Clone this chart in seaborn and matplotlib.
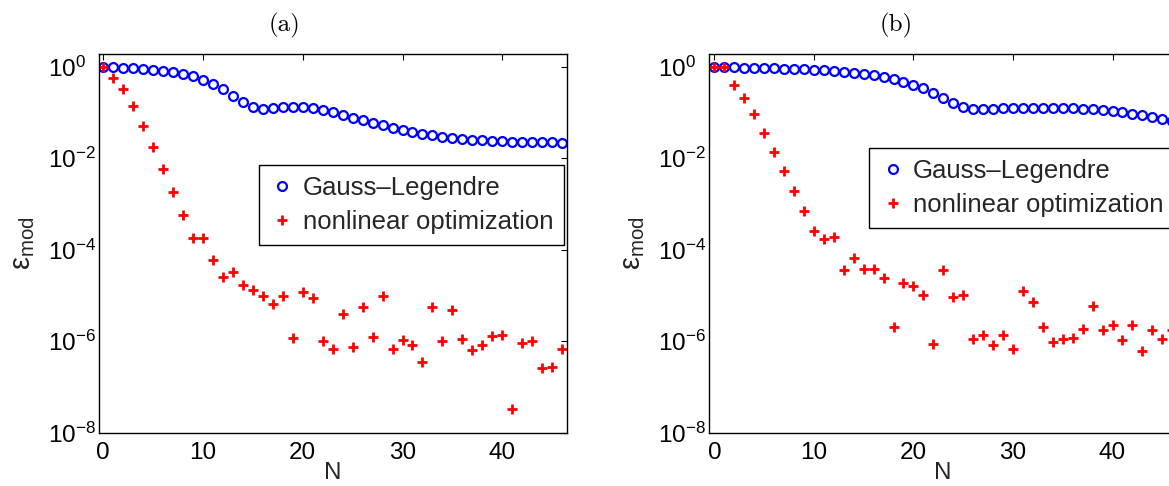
import matplotlib
matplotlib.use("Agg")
import matplotlib.pyplot as plt
import seaborn as sns

# ---------------- data ----------------
N_a = list(range(47))
gauss_a = [1.0, 0.968, 0.953, 0.92, 0.89, 0.86, 0.82, 0.75, 0.69, 0.62, 0.52, 0.42,
           0.32, 0.233, 0.166, 0.129, 0.119, 0.123, 0.129, 0.132, 0.129, 0.123, 0.113,
           0.102, 0.089, 0.077, 0.067, 0.060, 0.052, 0.046, 0.041, 0.037, 0.034, 0.032,
           0.029, 0.0276, 0.0262, 0.0254, 0.0245, 0.0241, 0.0238, 0.0230, 0.0230, 0.0226,
           0.0222, 0.0222, 0.0218]
nonlin_a = [1.0, 0.575, 0.32, 0.138, 0.0506, 0.0176, 0.0058, 0.00182, 5.8e-4, 1.77e-4,
            1.77e-4, 6.05e-5, 2.53e-5, 3.26e-5, 1.69e-5, 1.31e-5, 9.9e-6, 6.5e-6, 9.6e-6,
            1.19e-6, 1.17e-5, 8.8e-6, 9.95e-7, 6.8e-7, 3.9e-6, 7.6e-7, 5.5e-6, 1.22e-6,
            9.9e-6, 6.8e-7, 1.06e-6, 8.3e-7, 3.5e-7, 5.5e-6, 1.01e-6, 4.8e-6, 1.1e-6,
            6.4e-7, 8.3e-7, 1.28e-6, 1.36e-6, 3.35e-8, 9.0e-7, 1.01e-6, 2.55e-7, 2.77e-7,
            6.65e-7]

N_b = list(range(47))
gauss_b = [1.0, 0.985, 0.969, 0.953, 0.945, 0.937, 0.92, 0.906, 0.89, 0.875, 0.86, 0.833,
           0.805, 0.779, 0.741, 0.705, 0.659, 0.595, 0.53, 0.471, 0.405, 0.337, 0.271,
           0.21, 0.164, 0.134, 0.119, 0.117, 0.119, 0.123, 0.125, 0.127, 0.127, 0.127,
           0.127, 0.125, 0.123, 0.121, 0.117, 0.113, 0.106, 0.1005, 0.094, 0.0865, 0.081,
           0.073, 0.066]
nonlin_b = [1.0, 1.0, 0.40, 0.204, 0.091, 0.0361, 0.0139, 0.00525, 0.00195, 7.1e-4, 2.6e-4,
            1.69e-4, 1.92e-4, 3.6e-5, 6.7e-5, 3.8e-5, 3.8e-5, 2.4e-5, 2.0e-6, 1.9e-5,
            1.61e-5, 1.03e-5, 8.5e-7, 3.6e-5, 9.2e-6, 1.03e-5, 1.12e-6, 1.39e-6, 8.4e-7,
            1.39e-6, 6.8e-7, 1.27e-5, 7.3e-6, 2.07e-6, 9.5e-7, 1.13e-6, 1.16e-6, 1.87e-6,
            5.97e-6, 1.73e-6, 2.23e-6, 1.06e-6, 2.23e-6, 6.1e-7, 1.79e-6, 1.1e-6, 1.73e-6]

panel_titles = ["(a)", "(b)"]
legend_labels = ["Gauss\u2013Legendre", "nonlinear optimization"]
x_ticks = [0, 10, 20, 30, 40]
y_ticks = [1e-8, 1e-6, 1e-4, 1e-2, 1e0]
x_label = "N"
y_label = r"$\mathrm{\varepsilon}_{\mathrm{mod}}$"

# ---------------- style ----------------
sns.set_style("white")
plt.rcParams["font.family"] = ["Liberation Sans", "DejaVu Sans"]
plt.rcParams["mathtext.fontset"] = "custom"
plt.rcParams["mathtext.rm"] = "Liberation Sans"
plt.rcParams["mathtext.it"] = "Liberation Sans:italic"
plt.rcParams["mathtext.bf"] = "Liberation Sans:bold"
plt.rcParams["axes.unicode_minus"] = True

fig = plt.figure(figsize=(11.69, 4.86), dpi=100)

panels = [
    dict(N=N_a, gl=gauss_a, nl=nonlin_a, rect=[0.0849, 0.1097, 0.3998, 0.7792],
         xlim=(-0.4, 46.45), leg=(0.341, 0.707), title_xy=(0.243, 0.947)),
    dict(N=N_b, gl=gauss_b, nl=nonlin_b, rect=[0.6068, 0.1097, 0.3998, 0.7792],
         xlim=(-0.5, 46.45), leg=(0.3417, 0.751), title_xy=(0.767, 0.947)),
]

for p, title in zip(panels, panel_titles):
    ax = fig.add_axes(p["rect"])
    ax.set_yscale("log")
    sns.lineplot(x=p["N"], y=p["gl"], ax=ax, color="blue", marker="o", linestyle="none",
                 markerfacecolor="none", markeredgecolor="blue", markersize=6.4,
                 markeredgewidth=1.6, label=legend_labels[0], sort=False, estimator=None)
    sns.lineplot(x=p["N"], y=p["nl"], ax=ax, color="red", marker="+", linestyle="none",
                 markeredgecolor="red", markersize=7.2, markeredgewidth=2.0,
                 label=legend_labels[1], sort=False, estimator=None)

    ax.set_xlim(*p["xlim"])
    ax.set_ylim(1e-8, 1.9)
    ax.set_xticks(x_ticks)
    ax.set_yticks(y_ticks)
    ax.yaxis.set_minor_locator(matplotlib.ticker.NullLocator())
    ax.xaxis.set_minor_locator(matplotlib.ticker.NullLocator())

    for s in ax.spines.values():
        s.set_visible(True)
        s.set_color("black")
        s.set_linewidth(1.0)

    ax.tick_params(axis="both", which="major", direction="in", length=4, width=0.8,
                   color="black", top=True, right=True, labelsize=17.5, labelcolor="black")
    ax.tick_params(axis="x", pad=7)
    ax.tick_params(axis="y", pad=37)
    for lbl in ax.get_yticklabels():
        lbl.set_horizontalalignment("left")

    ax.set_xlabel(x_label, fontsize=17.5)
    ax.set_ylabel(y_label, fontsize=21)
    ax.xaxis.set_label_coords(0.5, -0.077)
    ax.yaxis.set_label_coords(-0.133, 0.5)

    leg = ax.legend(loc="upper left", bbox_to_anchor=p["leg"], borderaxespad=0,
                    fontsize=18.5, frameon=True, fancybox=False, edgecolor="black",
                    framealpha=1, handlelength=1.0, handletextpad=0.3, borderpad=0.42,
                    labelspacing=0.4)
    leg.get_frame().set_linewidth(1.0)

    fig.text(p["title_xy"][0], p["title_xy"][1], title, fontfamily="cmr10", fontsize=18,
             ha="center", va="center", color="black")

fig.savefig("out.png", dpi=100, facecolor="white")
